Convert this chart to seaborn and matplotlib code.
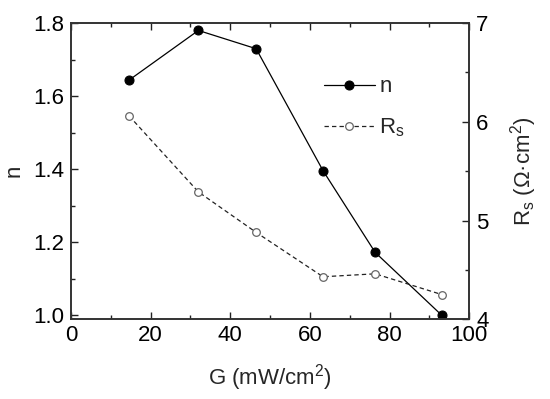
import pandas as pd
import seaborn as sns
import matplotlib.pyplot as plt
from matplotlib.ticker import MultipleLocator

G = [14.6, 32, 46.5, 63.3, 76.4, 93.1]
n = [1.644, 1.78, 1.73, 1.396, 1.172, 1.0]
Rs = [6.06, 5.29, 4.88, 4.43, 4.46, 4.25]

dados = pd.DataFrame({'G': G, 'n': n, 'Rs': Rs})

sns.set_style('ticks')
plt.rcParams['font.family'] = ['Liberation Sans', 'DejaVu Sans']
plt.rcParams['mathtext.fontset'] = 'custom'
plt.rcParams['mathtext.rm'] = 'Liberation Sans'
plt.rcParams['mathtext.it'] = 'Liberation Sans'

fig, ax = plt.subplots(figsize=(5.5, 3.99), dpi=100)
fig.subplots_adjust(left=0.129, right=0.853, top=0.942, bottom=0.2)
ax2 = ax.twinx()

sns.lineplot(data=dados, x='G', y='n', ax=ax, color='black', lw=0.9,
             marker='o', markersize=6.5, markerfacecolor='black',
             markeredgecolor='black', label='n', legend=False)
sns.lineplot(data=dados, x='G', y='Rs', ax=ax2, color='#222222', lw=0.9,
             dashes=False, marker='o', markersize=5.5, markerfacecolor='white',
             markeredgecolor='#666666', markeredgewidth=0.9,
             label='$\\mathregular{R_s}$', legend=False)
ax2.lines[0].set_dashes([3.5, 2.5])

ax.set_xlim(0, 100)
ax.set_ylim(0.989, 1.8)
ax2.set_ylim(4, 7)
ax.xaxis.set_major_locator(MultipleLocator(20))
ax.xaxis.set_minor_locator(MultipleLocator(10))
ax.yaxis.set_major_locator(MultipleLocator(0.2))
ax.yaxis.set_minor_locator(MultipleLocator(0.1))
ax2.yaxis.set_major_locator(MultipleLocator(1))
ax2.yaxis.set_minor_locator(MultipleLocator(0.5))
ax.yaxis.set_major_formatter(plt.FormatStrFormatter('%.1f'))

for a in (ax, ax2):
    a.tick_params(which='both', direction='in', labelsize=16, top=True,
                  width=1, colors='#222222', labelcolor='black')
    a.tick_params(which='major', length=5, pad=5)
    a.tick_params(which='minor', length=3)
    for s in a.spines.values():
        s.set_linewidth(1.2)
        s.set_color('#333333')
ax.tick_params(axis='y', which='both', right=False)
ax2.tick_params(axis='y', which='both', left=False)
ax.tick_params(axis='x', pad=4)

ax.set_xlabel('G (mW/cm$\\mathregular{^2}$)', fontsize=16, labelpad=12)
ax.set_ylabel('n', fontsize=16, labelpad=6)
ax2.set_ylabel('$\\mathregular{R_s}$ ($\\mathregular{\\Omega}$\u00b7cm$\\mathregular{^2}$)',
               fontsize=16, labelpad=14)

h1, l1 = ax.get_legend_handles_labels()
h2, l2 = ax2.get_legend_handles_labels()
ax.legend(h1 + h2, l1 + l2, loc='upper left', bbox_to_anchor=(0.635, 0.82),
          frameon=False, fontsize=16, handlelength=2.3, handletextpad=0.2,
          labelspacing=0.85, borderpad=0, borderaxespad=0)

plt.savefig('out.png', dpi=100)
